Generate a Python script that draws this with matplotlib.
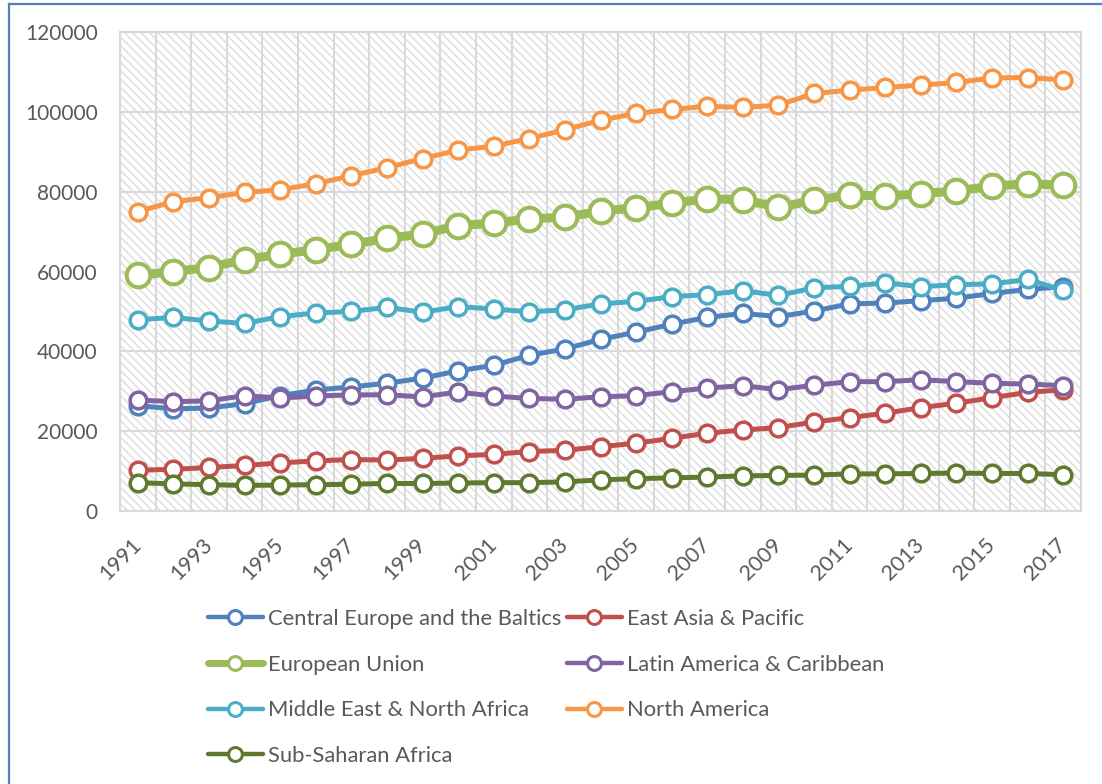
import matplotlib
matplotlib.use("Agg")
import matplotlib.pyplot as plt
from matplotlib.patches import Rectangle
from matplotlib.lines import Line2D

years = list(range(1991, 2018))

central_europe = [26400, 25600, 25800, 26900, 28900, 30300, 31100, 32000, 33300, 35100, 36500, 39000, 40600, 43000, 44800, 46800, 48500, 49500, 48700, 50100, 51900, 52100, 52700, 53300, 54500, 55500, 56200]
east_asia = [10200, 10450, 10900, 11400, 12050, 12550, 12900, 12750, 13200, 13800, 14200, 14900, 15200, 16100, 17000, 18200, 19500, 20300, 20900, 22300, 23400, 24500, 25900, 27000, 28400, 29700, 30400]
european_union = [59000, 60000, 61000, 63000, 64300, 65500, 66800, 68300, 69400, 71500, 72100, 73200, 73600, 75100, 76000, 77100, 78200, 78000, 76100, 77800, 79200, 78900, 79500, 80150, 81400, 82000, 81600]
latin_america = [27800, 27400, 27600, 28900, 28300, 28800, 29100, 29100, 28600, 29800, 28800, 28200, 28000, 28600, 28900, 29900, 30800, 31400, 30400, 31500, 32400, 32400, 32900, 32400, 32000, 31800, 31400]
mena = [47900, 48500, 47600, 47000, 48700, 49600, 50000, 51000, 49800, 51200, 50600, 49900, 50400, 51900, 52500, 53700, 54200, 55200, 54000, 55900, 56300, 57150, 56200, 56700, 56900, 58000, 55300]
north_america = [75000, 77500, 78500, 79800, 80500, 82000, 84000, 86000, 88300, 90400, 91400, 93300, 95500, 97900, 99600, 100600, 101400, 101100, 101700, 104600, 105400, 106100, 106700, 107350, 108500, 108600, 108000]
sub_saharan = [7100, 6800, 6600, 6400, 6500, 6600, 6700, 6900, 6900, 7000, 7100, 7100, 7300, 7800, 8100, 8300, 8500, 8800, 8900, 9000, 9300, 9300, 9400, 9500, 9400, 9400, 9100]

names = ["Central Europe and the Baltics", "East Asia & Pacific", "European Union",
         "Latin America & Caribbean", "Middle East & North Africa", "North America",
         "Sub-Saharan Africa"]
series = [central_europe, east_asia, european_union, latin_america, mena,
          north_america, sub_saharan]
colors = ["#4F81BD", "#C0504D", "#9BBB59", "#8064A2", "#4BACC6", "#F79646", "#5F7A2F"]
y_ticks = [0, 20000, 40000, 60000, 80000, 100000, 120000]

plt.rcParams['font.family'] = ['Lato', 'DejaVu Sans']
plt.rcParams['hatch.linewidth'] = 1.0
text_color = "#595959"
grid_color = "#D9D9D9"

W, H = 1102, 784
fig = plt.figure(figsize=(W / 100, H / 100), dpi=100)
ax = fig.add_axes([120 / W, 1 - 511 / H, (1081 - 120) / W, (511 - 32) / H])

x = list(range(len(years)))
ax.set_xlim(-0.5, len(years) - 0.5)
ax.set_ylim(0, 120000)

# hatched background
ax.add_patch(Rectangle((0, 0), 1, 1, transform=ax.transAxes, facecolor="white",
                       edgecolor="#DDDDDD", linewidth=0, hatch="\\\\\\\\", zorder=0))

for yv in y_ticks:
    ax.axhline(yv, color=grid_color, lw=1.5, zorder=1)
for k in range(len(years) + 1):
    ax.axvline(k - 0.5, color=grid_color, lw=1.5, zorder=1)

for sp in ax.spines.values():
    sp.set_color(grid_color)
    sp.set_linewidth(1.5)

handles = []
for i, (name, vals, c) in enumerate(zip(names, series, colors)):
    if name == "European Union":
        lw, ms, mew = 6.5, 17, 2.9
        hlw, hms, hmew = 5.0, 10, 2.2
    else:
        lw, ms, mew = 3.6, 12, 2.5
        hlw, hms, hmew = 3.2, 10, 2.2
    ax.plot(x, vals, color=c, lw=lw, marker="o", ms=ms, mfc="white", mec=c, mew=mew,
            zorder=3 + i, solid_capstyle="round")
    handles.append(Line2D([0], [0], color=c, lw=hlw, marker="o", ms=hms, mfc="white",
                          mec=c, mew=hmew, solid_capstyle="round"))

ax.set_yticks(y_ticks)
ax.set_yticklabels([str(v) for v in y_ticks], fontsize=15, color=text_color)
ax.set_xticks(x[::2])
ax.set_xticklabels([str(years[i]) for i in x[::2]], fontsize=15.5, color=text_color,
                   rotation=45, ha="right", va="center", rotation_mode="anchor")
ax.tick_params(axis="both", length=0)
ax.tick_params(axis="x", pad=22)
ax.tick_params(axis="y", pad=16)

leg_kw = dict(frameon=False, fontsize=15.8, labelcolor=text_color, handlelength=2.5,
              handletextpad=0.22, labelspacing=1.17, borderpad=0, borderaxespad=0,
              loc="upper left")
col1 = [0, 2, 4, 6]
col2 = [1, 3, 5]
leg1 = fig.legend([handles[i] for i in col1], [names[i] for i in col1],
                  bbox_to_anchor=(208 / W, 1 - 609 / H), **leg_kw)
leg2 = fig.legend([handles[i] for i in col2], [names[i] for i in col2],
                  bbox_to_anchor=(567 / W, 1 - 609 / H), **leg_kw)

# blue chart-frame border (left and top visible)
fig.add_artist(Line2D([9 / W, 9 / W], [0, 1 - 4 / H], color="#4F81BD", lw=1.6,
                      transform=fig.transFigure))
fig.add_artist(Line2D([9 / W, 1], [1 - 4 / H, 1 - 4 / H], color="#4F81BD", lw=1.6,
                      transform=fig.transFigure))

fig.savefig("out.png", dpi=100)
